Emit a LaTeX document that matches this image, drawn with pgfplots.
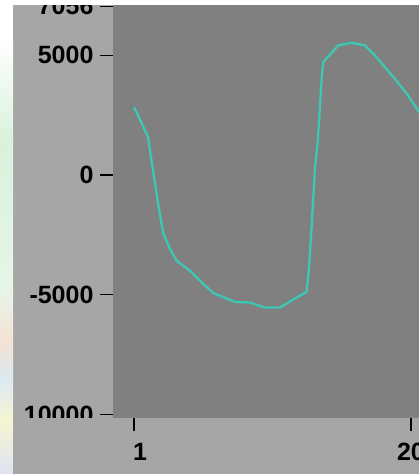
\documentclass[border=0pt]{standalone}
\usepackage{fontspec}
\setmainfont{Liberation Sans}
\usepackage{pgfplots}
\pgfplotsset{compat=1.18}
\definecolor{panelgray}{HTML}{A6A6A6}
\definecolor{plotgray}{HTML}{808080}
\definecolor{lineteal}{HTML}{3CC8B4}
\definecolor{sA}{HTML}{D9F2DC}
\definecolor{sB}{HTML}{E6F5E8}
\definecolor{sC}{HTML}{F3E3D5}
\definecolor{sD}{HTML}{DCE9F0}
\definecolor{sE}{HTML}{F6F5D2}
\definecolor{sF}{HTML}{DFE3F2}
\begin{document}
\begin{tikzpicture}[x=1pt,y=1pt]
\fill[white] (0,0) rectangle (419,474);
\fill[panelgray] (13,0) rectangle (419,469);
\shade[top color=white,bottom color=sA] (0,334) rectangle (13,434);
\shade[top color=sA,bottom color=sB] (0,184) rectangle (13,334);
\shade[top color=sB,bottom color=sC] (0,134) rectangle (13,184);
\shade[top color=sC,bottom color=sD] (0,94) rectangle (13,134);
\shade[top color=sD,bottom color=sE] (0,54) rectangle (13,94);
\shade[top color=sE,bottom color=sF] (0,0) rectangle (13,54);
\begin{axis}[
  at={(113pt,56pt)}, anchor=south west,
  width=306pt, height=413pt, scale only axis,
  xmin=-0.44, xmax=20.55, ymin=-10150, ymax=7100,
  axis background/.style={fill=plotgray},
  axis line style={draw=none},
  xtick={1,20}, xticklabels={{\hspace*{12pt}1},20},
  ytick={-10000,-5000,0,5000,7056},
  yticklabels={10000,-5000,0,5000,7056},
  tick align=outside, major tick length=13pt,
  xtick pos=bottom, ytick pos=left,
  minor tick num=0,
  tick style={black, line width=1.1pt},
  ticklabel style={font=\fontsize{25}{30}\selectfont\bfseries, text=black},
  yticklabel style={xshift=-3pt},
  xticklabel style={yshift=-9pt},
]
\addplot[lineteal, line width=2.3pt, line join=round] coordinates {
(1.00,2833) (1.50,2200) (1.96,1587) (2.30,209) (2.65,-1170)
(3.00,-2423) (3.47,-3096) (3.93,-3585) (4.84,-4004)
(5.75,-4550) (6.50,-4950) (7.93,-5301) (8.96,-5327) (9.98,-5536)
(11.01,-5536) (12.16,-5117) (12.84,-4882) (13.00,-3933) (13.19,-2100)
(13.41,251) (13.60,1368) (13.70,2300) (13.87,4017) (13.98,4715)
(15.01,5410) (15.93,5523) (16.84,5410) (17.53,4991) (18.90,4017)
(19.81,3318) (20.55,2623)
};
\end{axis}
\fill[white] (0,469) rectangle (419,500);
\fill[panelgray] (13,-10) rectangle (112,56);
\pgfresetboundingbox
\path[use as bounding box] (0,0) rectangle (419,474);
\end{tikzpicture}
\end{document}
